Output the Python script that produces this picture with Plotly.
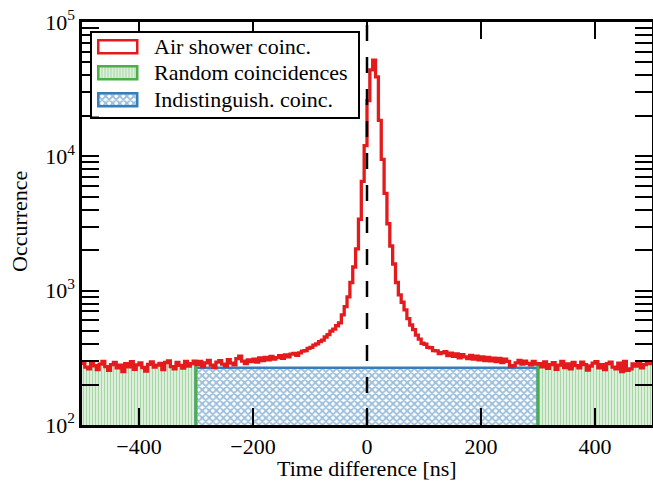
import plotly.graph_objects as go

# ---------------- data ----------------
bin_width = 5
bin_edges = list(range(-500, 501, bin_width))

# Air shower coincidences histogram (200 bins of 5 ns, -500 .. 500 ns)
air_counts = [
    # -500 .. -300
    288, 270, 262, 291, 276, 258, 284, 297, 272, 255,
    281, 293, 266, 279, 250, 286, 271, 296, 260, 280,
    290, 268, 252, 283, 295, 270, 279, 288, 258, 292,
    300, 272, 262, 293, 278, 265, 297, 275, 286, 299,
    # -300 .. -200
    281, 298, 272, 290, 303, 279, 268, 294, 301, 284,
    274, 306, 289, 280, 312, 326, 299, 287, 305, 296,
    # -200 .. -120
    309, 294, 316, 301, 318, 305, 324, 309, 317, 328,
    314, 333, 322, 337, 341, 330,
    # -120 .. 130
    344, 355, 358, 372, 378, 393, 402, 418, 428, 452,
    470, 499, 518, 548, 575, 660, 760, 900, 1150, 1500,
    2050, 3400, 6500, 12000, 26000, 44000, 52000, 39000, 18500, 9500,
    5300, 3150, 2150, 1580, 1150, 930, 820, 720, 620, 555,
    512, 466, 436, 406, 399, 378, 376, 358, 356, 340,
    # 130 .. 300
    345, 351, 328, 342, 324, 339, 316, 334, 322, 312,
    329, 309, 325, 306, 321, 302, 318, 300, 314, 296,
    313, 292, 309, 298, 272, 276, 290, 303, 284, 299,
    288, 280, 297, 284,
    # 300 .. 500
    286, 271, 295, 264, 281, 291, 260, 279, 298, 268,
    285, 262, 292, 277, 266, 294, 281, 256, 275, 289,
    296, 266, 281, 259, 286, 294, 270, 262, 289, 250,
    297, 255, 262, 285, 274, 292, 266, 281, 296, 286,
]

# Indistinguishable coincidences (inside +-300 ns)
indist_range = (-300, 300)
indist_level = 265

x_ticks = [-400, -200, 0, 200, 400]
x_ticktext = ["\u2212400", "\u2212200", "0", "200", "400"]
y_ticks = [1e2, 1e3, 1e4, 1e5]
y_ticktext = ["10<sup>2</sup>", "10<sup>3</sup>", "10<sup>4</sup>", "10<sup>5</sup>"]
y_minor = [m * 10 ** d for d in (2, 3, 4) for m in range(2, 10)]

legend_labels = ["Air shower coinc.", "Random coincidences", "Indistinguish. coinc."]

# ---------------- style ----------------
RED, GREEN, BLUE = "#e41a1c", "#4daf4a", "#377eb8"
FONT = "Liberation Serif, Times New Roman, serif"
FS = 22

W, H = 653, 483
# plot area in page pixels: x 82..652, y 22..425
L, T = 82, 22
R = W - 652
B = H - 425
pw, ph = W - L - R, H - T - B


def xp(px):
    return (px - L) / pw


def yp(py):
    return (H - B - py) / ph


centers = [e + bin_width / 2 for e in bin_edges[:-1]]
rand_idx = [i for i, c in enumerate(centers) if c < indist_range[0] or c > indist_range[1]]
rand_x = [centers[i] for i in rand_idx]
rand_y = [air_counts[i] for i in rand_idx]

fig = go.Figure()

# random coincidences (green vertical hatch)
fig.add_trace(go.Bar(
    x=rand_x, y=rand_y, width=bin_width,
    marker=dict(color="white", line=dict(width=0),
                pattern=dict(shape="|", fgcolor=GREEN, bgcolor="white", size=3, solidity=0.6)),
    hoverinfo="skip",
))

# indistinguishable coincidences (blue cross hatch)
fig.add_trace(go.Bar(
    x=[(indist_range[0] + indist_range[1]) / 2], y=[indist_level],
    width=indist_range[1] - indist_range[0],
    marker=dict(color="white", line=dict(width=2.5, color=BLUE),
                pattern=dict(shape="x", fgcolor=BLUE, bgcolor="white", size=5, solidity=0.6)),
    hoverinfo="skip",
))

# green edges of random histogram at +-300
i_l = max(i for i in rand_idx if centers[i] < 0)
i_r = min(i for i in rand_idx if centers[i] > 0)
fig.add_trace(go.Scatter(x=[indist_range[0], indist_range[0]], y=[1e2, air_counts[i_l]],
                         mode="lines", line=dict(color=GREEN, width=3), hoverinfo="skip"))
fig.add_trace(go.Scatter(x=[indist_range[1], indist_range[1]], y=[1e2, air_counts[i_r]],
                         mode="lines", line=dict(color=GREEN, width=3), hoverinfo="skip"))

# air shower histogram (step)
fig.add_trace(go.Scatter(
    x=bin_edges, y=air_counts + [air_counts[-1]], mode="lines", line_shape="hv",
    line=dict(color=RED, width=3.3), hoverinfo="skip",
))

# dashed zero line
fig.add_shape(type="line", xref="x", yref="paper", x0=0, x1=0, y0=0, y1=1,
              line=dict(color="black", width=2.5, dash="16px,16px"), layer="above")

# ---------------- legend (own subplot, page-pixel coordinates) ----------------
LB = (91.5, 357.5, 32.5, 116.5)
row_y = [46.5, 72.5, 99.5]
fig.add_trace(go.Bar(
    x=[39, 39, 39], y=row_y, base=[98, 98, 98], width=13, orientation="h",
    xaxis="x2", yaxis="y2",
    marker=dict(color="white",
                line=dict(width=2.5, color=[RED, GREEN, BLUE]),
                pattern=dict(shape=["", "|", "x"], fgcolor=[RED, GREEN, BLUE],
                             bgcolor="white", size=[5, 3, 5], solidity=[0.3, 0.6, 0.6])),
    hoverinfo="skip",
))
for lab, yy in zip(legend_labels, row_y):
    fig.add_annotation(x=152, y=yy, xref="x2", yref="y2", text=lab, showarrow=False,
                       xanchor="left", yanchor="middle", font=dict(family=FONT, size=FS, color="black"))

# axis titles
fig.add_annotation(x=xp(367), y=yp(468), xref="paper", yref="paper", text="Time difference [ns]",
                   showarrow=False, xanchor="center", yanchor="middle",
                   font=dict(family=FONT, size=FS, color="black"))
fig.add_annotation(x=xp(19), y=yp(222), xref="paper", yref="paper", text="Occurrence",
                   textangle=-90, showarrow=False, xanchor="center", yanchor="middle",
                   font=dict(family=FONT, size=FS, color="black"))

axis_common = dict(showline=True, linecolor="black", linewidth=2.5, mirror="ticks",
                   ticks="inside", ticklen=17, tickwidth=2, tickcolor="black",
                   showgrid=False, zeroline=False, automargin=False,
                   tickfont=dict(family=FONT, size=FS, color="black"))

fig.update_layout(
    width=W, height=H, margin=dict(l=L, r=R, t=T, b=B, autoexpand=False),
    paper_bgcolor="white", plot_bgcolor="white",
    font=dict(family=FONT, size=FS, color="black"),
    barmode="overlay", bargap=0, showlegend=False,
    xaxis=dict(range=[-500, 500], tickmode="array", tickvals=x_ticks, ticktext=x_ticktext,
               **axis_common),
    yaxis=dict(type="log", range=[2, 5], tickmode="array", tickvals=y_ticks, ticktext=y_ticktext,
               minor=dict(ticks="inside", ticklen=17, tickwidth=2, tickcolor="black",
                          tickmode="array", tickvals=y_minor, showgrid=False),
               **axis_common),
    xaxis2=dict(domain=[xp(LB[0]), xp(LB[1])], range=[LB[0], LB[1]], anchor="y2",
                showline=True, mirror=True, linecolor="black", linewidth=2,
                showticklabels=False, ticks="", showgrid=False, zeroline=False, fixedrange=True),
    yaxis2=dict(domain=[yp(LB[3]), yp(LB[2])], range=[LB[3], LB[2]], anchor="x2",
                showline=True, mirror=True, linecolor="black", linewidth=2,
                showticklabels=False, ticks="", showgrid=False, zeroline=False, fixedrange=True),
)

fig.write_html("out.html", config={"displayModeBar": False},
               post_script="document.body.style.margin='0';document.body.style.overflow='hidden';")
